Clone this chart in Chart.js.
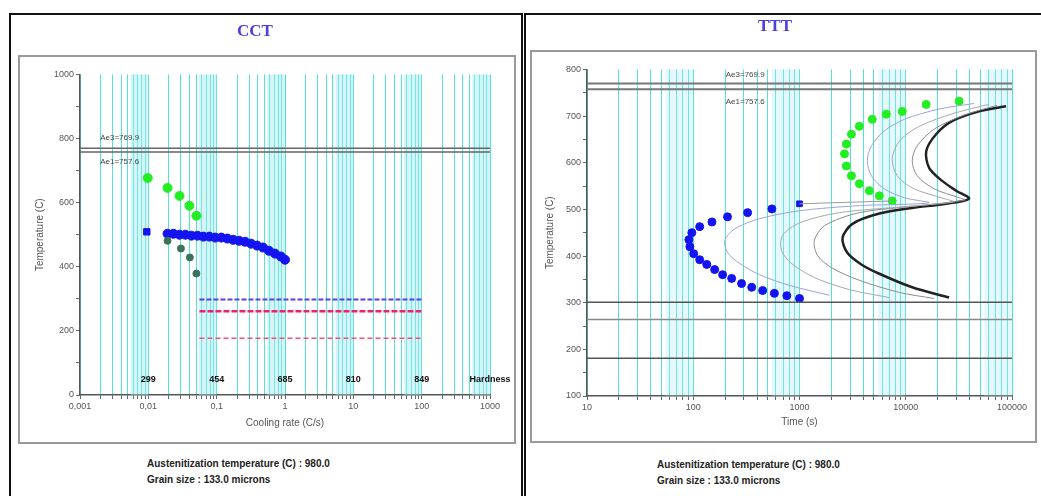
<!DOCTYPE html>
<html><head><meta charset="utf-8">
<script src="https://cdn.jsdelivr.net/npm/chart.js@4.4.1/dist/chart.umd.min.js"></script>
<style>
body{margin:0;background:#fff;width:1041px;height:496px;overflow:hidden;position:relative;font-family:"Liberation Sans",Arial,sans-serif}
.panel{position:absolute;top:13px;height:490px;border:2px solid #111;box-sizing:border-box}
.frame{position:absolute;border:2px solid #9a9a9a;box-sizing:border-box}
.foot{position:absolute;font-size:10px;font-weight:bold;color:#222;line-height:16px;white-space:nowrap}
canvas{position:absolute}
</style></head>
<body>
<div class="panel" style="left:9px;width:514px"></div>
<div class="panel" style="left:524px;width:520px"></div>
<div class="frame" style="left:18px;top:55px;width:498px;height:389px"></div>
<div class="frame" style="left:530px;top:50px;width:507px;height:393px"></div>
<div class="foot" style="left:147px;top:456px">Austenitization temperature (C) : 980.0<br>Grain size : 133.0 microns</div>
<div class="foot" style="left:657px;top:457px">Austenitization temperature (C) : 980.0<br>Grain size : 133.0 microns</div>
<div style="position:absolute;left:10px;top:15px;width:508px;height:428px"><canvas id="cct"></canvas></div>
<div style="position:absolute;left:528px;top:14px;width:510px;height:428px"><canvas id="ttt"></canvas></div>
<script>
// ---------- CCT data ----------
const cctXTicks = ['0,001','0,01','0,1','1','10','100','1000'];
const cctAe3 = 769.9, cctAe1 = 757.6;
const cctAeLabels = ['Ae3=769.9','Ae1=757.6'];
const cctGreenRate = [0.0098, 0.0191, 0.0286, 0.0399, 0.0505];
const cctGreenTemp = [677, 646, 621, 590, 559];
const cctBlueRate = [0.0095,0.0191,0.0233,0.0286,0.0349,0.0427,0.0522,0.0638,0.078,0.0954,0.117,0.143,0.175,0.213,0.261,0.319,0.39,0.476,0.583,0.713,0.871,1.0];
const cctBlueTemp = [509,503,503,500,500,497,497,494,494,491,491,488,484,481,478,472,466,460,450,441,432,422];
const cctDarkRate = [0.0191, 0.0300, 0.0405, 0.0505];
const cctDarkTemp = [481, 457, 429, 379];
const cctMsRate = [0.056, 100];
const cctMsTemp = [298, 261, 177];
const hardRates = [0.01, 0.1, 1, 10, 100, 1000];
const hardLabels = ['299','454','685','810','849','Hardness'];

// ---------- TTT data ----------
const tttAe3 = 769.9, tttAe1 = 757.6;
const tttAeLabels = ['Ae3=769.9','Ae1=757.6'];
const tttMsTemp = [301, 264, 181];
const tttGreenTime = [31770,15560,9270,6560,4840,3660,3080,2760,2650,2760,3080,3660,4540,5640,7460];
const tttGreenTemp = [732,725,710,704,693,678,661,640,619,593,572,555,540,529,518];
const tttBlueTime = [1000,550,325,210,150,115,97,91,93,101,115,134,159,189,230,285,355,450,580,760,1000];
const tttBlueTemp = [512,501,493,484,473,463,450,435,420,405,392,382,371,360,352,341,333,326,320,315,309];
const tttBlackTime = [87900,49000,27300,19300,15600,16600,22000,29800,39400,24000,11500,5640,3150,2540,2820,3820,5640,11500,25600];
const tttBlackTemp = [721,710,689,661,625,589,561,540,523,512,503,491,469,439,407,382,362,333,311];
const tttThinATime = [44000,20600,9700,6280,4750,4350,4750,6280,9700,16600,3660,1000,421,245,198,211,274,421,805,1910];
const tttThinATemp = [727,715,693,668,636,604,572,544,525,514,508,497,480,458,433,407,384,360,337,316];
const tttThinBTime = [60800,28500,13400,8690,7460,8320,12000,23000,28500,8690,2380,1000,692,677,841,1380,2950,7000];
const tttThinBTemp = [725,706,678,646,608,572,544,523,516,505,493,471,444,412,384,354,328,311];
const tttThinCTime = [72300,35400,18500,12800,11500,12800,18500,31800,36200,13400,3660,1720,1380,1480,2000,3660,8690,18500];
const tttThinCTemp = [723,702,672,636,604,572,544,525,520,508,493,465,433,401,375,348,322,309];
const tttXTicks = ['10','100','1000','10000','100000'];

// ---------- helpers ----------
const pts = (xs, ys) => xs.map((x, i) => ({x, y: ys[i]}));
const hline = (x0, x1, y) => [{x: x0, y}, {x: x1, y}];
function logTicks(min, max) {
  const t = [];
  for (let e = Math.round(Math.log10(min)); e < Math.round(Math.log10(max)); e++) {
    for (let m = 1; m < 10; m++) t.push({value: m * Math.pow(10, e)});
  }
  t.push({value: max});
  return t;
}
const isDecade = v => Math.abs(Math.log10(v) - Math.round(Math.log10(v))) < 1e-9;

const bandPlugin = {
  id: 'bands',
  beforeDatasetsDraw(chart, args, opts) {
    const {ctx, chartArea: a, scales: {x}} = chart;
    ctx.save();
    ctx.fillStyle = opts.color;
    const e0 = Math.round(Math.log10(x.min)), e1 = Math.round(Math.log10(x.max));
    for (let e = e0; e < e1; e++) {
      const p0 = x.getPixelForValue(5.5 * Math.pow(10, e));
      const p1 = x.getPixelForValue(Math.pow(10, e + 1));
      ctx.fillRect(p0, a.top, p1 - p0, a.bottom - a.top);
    }
    ctx.restore();
  }
};
const textPlugin = {
  id: 'texts',
  afterDatasetsDraw(chart, args, opts) {
    const {ctx, scales: {x, y}, chartArea: a} = chart;
    ctx.save();
    (opts.items || []).forEach(it => {
      ctx.font = it.font;
      ctx.fillStyle = it.color;
      ctx.textAlign = it.align || 'center';
      ctx.textBaseline = 'middle';
      const px = x.getPixelForValue(it.x);
      const py = it.bottomOffset != null ? a.bottom - it.bottomOffset : y.getPixelForValue(it.y) + (it.dy || 0);
      ctx.fillText(it.text, px, py);
    });
    ctx.restore();
  }
};

const gridCyan = 'rgba(64,224,208,0.9)';
const tickFont = {family: 'Liberation Sans', size: 9};

function baseOptions(cfg) {
  return {
    responsive: true, maintainAspectRatio: false, animation: false,
    layout: {padding: cfg.padding},
    plugins: {
      legend: {display: false}, tooltip: {enabled: false},
      title: {display: true, text: cfg.title, color: '#4b3fe0', font: {family: 'Liberation Serif', size: 17}, padding: cfg.titlePad},
      bands: {color: cfg.bandColor},
      texts: {items: cfg.texts}
    },
    scales: {
      x: {
        type: 'logarithmic', min: cfg.xmin, max: cfg.xmax,
        afterBuildTicks: s => { s.ticks = logTicks(cfg.xmin, cfg.xmax); },
        afterFit: s => { s.height = cfg.xHeight; },
        ticks: {autoSkip: false, maxRotation: 0, color: '#555', font: tickFont, padding: 2,
          callback: (v) => isDecade(v) ? cfg.xLabels[Math.round(Math.log10(v / cfg.xmin))] : ''},
        grid: {color: gridCyan, lineWidth: 1, tickLength: 4, tickColor: '#666'},
        border: {display: true, color: '#555', width: 1.5},
        title: {display: true, text: cfg.xTitle, color: '#555', font: {family: 'Liberation Sans', size: 10}, padding: {top: 0, bottom: cfg.xTitleBottom}}
      },
      y: {
        min: cfg.ymin, max: cfg.ymax,
        afterBuildTicks: s => { const t = []; for (let v = cfg.ymin; v <= cfg.ymax; v += cfg.yStep) t.push({value: v}); s.ticks = t; },
        afterFit: s => { s.width = cfg.yWidth; },
        ticks: {color: '#555', font: tickFont, padding: 2,
          callback: v => (v - cfg.ymin) % cfg.yLabelStep === 0 ? String(v) : ''},
        grid: {drawOnChartArea: false, tickLength: 4, tickColor: '#666'},
        border: {display: true, color: '#555', width: 1.5},
        title: {display: true, text: 'Temperature (C)', color: '#555', font: {family: 'Liberation Sans', size: 10}, padding: {top: cfg.yTitleTop, bottom: 0}}
      }
    }
  };
}

const lineDs = (data, color, width, dash, tension) => ({type: 'line', data, borderColor: color, borderWidth: width, borderDash: dash || [], pointRadius: 0, fill: false, tension: tension || 0});
const ptDs = (data, color, r, style) => ({type: 'scatter', data, backgroundColor: color, borderColor: color, pointRadius: r, pointStyle: style || 'circle', showLine: false});

// ---------- CCT chart ----------
const cctOpts = baseOptions({
  title: 'CCT', titlePad: {top: 6, bottom: 33}, padding: {left: 10, right: 28, top: 0, bottom: 0},
  xmin: 0.001, xmax: 1000, xLabels: cctXTicks, xHeight: 48, xTitle: 'Cooling rate (C/s)', xTitleBottom: 14,
  ymin: 0, ymax: 1000, yStep: 100, yLabelStep: 200, yWidth: 60, yTitleTop: 14,
  bandColor: 'rgba(160,232,240,0.45)',
  texts: [
    {text: cctAeLabels[0], x: 0.0038, y: cctAe3, dy: -10, font: '8px Liberation Sans', color: '#444'},
    {text: cctAeLabels[1], x: 0.0038, y: cctAe1, dy: 10, font: '8px Liberation Sans', color: '#444'},
    ...hardRates.map((r, i) => ({text: hardLabels[i], x: r, bottomOffset: 15, font: 'bold 9px Liberation Sans', color: '#111'}))
  ]
});
new Chart(document.getElementById('cct'), {
  data: {datasets: [
    lineDs(hline(0.001, 1000, cctAe3), '#666', 1.5),
    lineDs(hline(0.001, 1000, cctAe1), '#666', 1.5),
    lineDs(hline(cctMsRate[0], cctMsRate[1], cctMsTemp[0]), '#5a3cf0', 2, [5, 2]),
    lineDs(hline(cctMsRate[0], cctMsRate[1], cctMsTemp[1]), '#f0206a', 2.5, [6, 2]),
    lineDs(hline(cctMsRate[0], cctMsRate[1], cctMsTemp[2]), '#f0507a', 1.5, [5, 3]),
    ptDs(pts(cctGreenRate, cctGreenTemp), '#22ee22', 4.5),
    ptDs(pts(cctDarkRate, cctDarkTemp), '#3d7358', 3.5),
    ptDs(pts(cctBlueRate, cctBlueTemp), '#1414f0', 4.5, cctBlueRate.map((_, i) => i === 0 ? 'rect' : 'circle'))
  ]},
  options: cctOpts,
  plugins: [bandPlugin, textPlugin]
});

// ---------- TTT chart ----------
const tttOpts = baseOptions({
  title: 'TTT', titlePad: {top: 2, bottom: 33}, padding: {left: 10, right: 26, top: 0, bottom: 0},
  xmin: 10, xmax: 100000, xLabels: tttXTicks, xHeight: 46, xTitle: 'Time (s)', xTitleBottom: 14,
  ymin: 100, ymax: 800, yStep: 50, yLabelStep: 100, yWidth: 49, yTitleTop: 6,
  bandColor: 'rgba(170,236,244,0.3)',
  texts: [
    {text: tttAeLabels[0], x: 470, y: tttAe3, dy: -9, font: '8px Liberation Sans', color: '#444', align: 'right'},
    {text: tttAeLabels[1], x: 470, y: tttAe1, dy: 13, font: '8px Liberation Sans', color: '#444', align: 'right'}
  ]
});
new Chart(document.getElementById('ttt'), {
  data: {datasets: [
    lineDs(hline(10, 100000, tttAe3), '#777', 2),
    lineDs(hline(10, 100000, tttAe1), '#777', 2),
    lineDs(hline(10, 100000, tttMsTemp[0]), '#555', 1.5),
    lineDs(hline(10, 100000, tttMsTemp[1]), '#888', 1.5),
    lineDs(hline(10, 100000, tttMsTemp[2]), '#555', 1.5),
    lineDs(pts(tttThinATime, tttThinATemp), '#9aa3d8', 1, [], 0.3),
    lineDs(pts(tttThinBTime, tttThinBTemp), '#a8a8a8', 1, [], 0.3),
    lineDs(pts(tttThinCTime, tttThinCTemp), '#8a8a8a', 1, [], 0.3),
    lineDs([{x: tttGreenTime[tttGreenTime.length - 1], y: tttGreenTemp[tttGreenTemp.length - 1]}, {x: tttBlueTime[0], y: tttBlueTemp[0]}], '#999', 1),
    lineDs(pts(tttBlackTime, tttBlackTemp), '#222', 2.5, [], 0.3),
    ptDs(pts(tttGreenTime, tttGreenTemp), '#22ee22', 4),
    ptDs(pts(tttBlueTime, tttBlueTemp), '#1414f0', 4, tttBlueTime.map((_, i) => i === 0 ? 'rect' : 'circle'))
  ]},
  options: tttOpts,
  plugins: [bandPlugin, textPlugin]
});
</script>
</body></html>
